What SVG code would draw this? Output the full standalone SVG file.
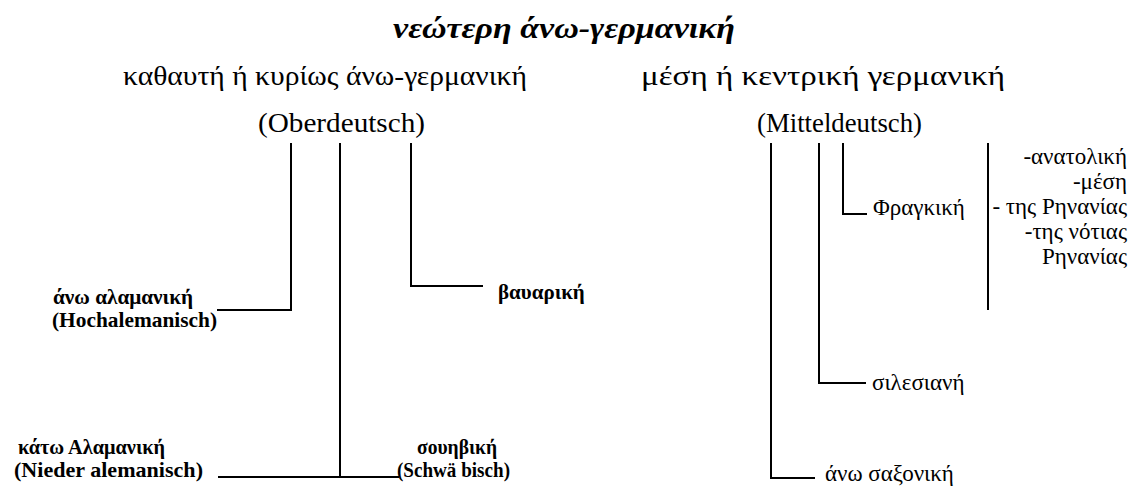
<svg xmlns="http://www.w3.org/2000/svg" width="1134" height="486" viewBox="0 0 1134 486">
  <style>
    .serif { font-family: "Liberation Serif", "Times New Roman", Tinos, "DejaVu Serif", "Noto Serif", serif; fill: #000; }
    .title { font-size: 29px; font-weight: bold; font-style: italic; }
    .head { font-size: 28px; }
    .branch { font-size: 21px; font-weight: bold; }
    .leaf { font-size: 23px; }
    .conn line, .conn polyline { stroke: #000; stroke-width: 2; fill: none; }
  </style>
  <rect width="1134" height="486" fill="#fff"/>

  <g class="serif">
    <g id="title">
      <text class="title" x="564" y="38" text-anchor="middle" textLength="342" lengthAdjust="spacingAndGlyphs">νεώτερη άνω-γερμανική</text>
    </g>

    <g id="oberdeutsch">
      <text class="head" x="123" y="85" textLength="404" lengthAdjust="spacingAndGlyphs">καθαυτή ή κυρίως άνω-γερμανική</text>
      <text class="head" x="258" y="132" textLength="167" lengthAdjust="spacingAndGlyphs">(Oberdeutsch)</text>
    </g>

    <g id="mitteldeutsch">
      <text class="head" x="641" y="85" textLength="364" lengthAdjust="spacingAndGlyphs">μέση ή κεντρική γερμανική</text>
      <text class="head" x="757" y="132" textLength="165" lengthAdjust="spacingAndGlyphs">(Mitteldeutsch)</text>
    </g>

    <g id="hochalemanisch">
      <text class="branch" x="53" y="304" textLength="140" lengthAdjust="spacingAndGlyphs">άνω αλαμανική</text>
      <text class="branch" x="52" y="327" textLength="165" lengthAdjust="spacingAndGlyphs">(Hochalemanisch)</text>
    </g>

    <g id="bairisch">
      <text class="branch" x="498" y="299">βαυαρική</text>
    </g>

    <g id="niederalemanisch">
      <text class="branch" x="18" y="454" textLength="147" lengthAdjust="spacingAndGlyphs">κάτω Αλαμανική</text>
      <text class="branch" x="14" y="477" textLength="189" lengthAdjust="spacingAndGlyphs">(Nieder alemanisch)</text>
    </g>

    <g id="schwaebisch">
      <text class="branch" x="417" y="454" textLength="80" lengthAdjust="spacingAndGlyphs">σουηβική</text>
      <text class="branch" x="397" y="477" textLength="113" lengthAdjust="spacingAndGlyphs">(Schwä bisch)</text>
    </g>

    <g id="fraenkisch">
      <text class="leaf" x="873" y="215">Φραγκική</text>
    </g>

    <g id="fraenkisch-varieties">
      <text class="leaf" x="1127" y="164" text-anchor="end">-ανατολική</text>
      <text class="leaf" x="1127" y="189" text-anchor="end">-μέση</text>
      <text class="leaf" x="1127" y="214" text-anchor="end">- της Ρηνανίας</text>
      <text class="leaf" x="1127" y="239" text-anchor="end">-της νότιας</text>
      <text class="leaf" x="1127" y="264" text-anchor="end">Ρηνανίας</text>
    </g>

    <g id="schlesisch">
      <text class="leaf" x="872" y="390">σιλεσιανή</text>
    </g>

    <g id="obersaechsisch">
      <text class="leaf" x="825" y="481">άνω σαξονική</text>
    </g>
  </g>

  <g id="connectors" class="conn">
    <!-- Oberdeutsch branches -->
    <polyline points="291,143 291,310 217,310"/>
    <line x1="340" y1="143" x2="340" y2="477"/>
    <line x1="218" y1="477" x2="399" y2="477"/>
    <polyline points="411,143 411,286 483,286"/>
    <!-- Mitteldeutsch branches -->
    <polyline points="843,143 843,214 867,214"/>
    <polyline points="819,143 819,383 866,383"/>
    <polyline points="771,143 771,478 815,478"/>
    <!-- bracket for the Franconian varieties -->
    <line x1="988" y1="143" x2="988" y2="310"/>
  </g>
</svg>
